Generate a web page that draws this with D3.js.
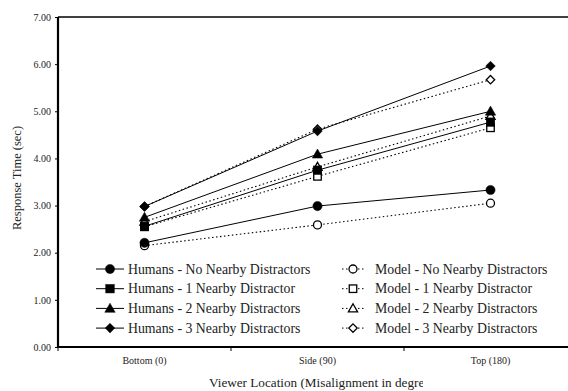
<!DOCTYPE html>
<html>
<head>
<meta charset="utf-8">
<script src="https://cdn.jsdelivr.net/npm/d3@7"></script>
<style>
  body { margin: 0; background: #fff; }
  svg text { font-family: 'Liberation Serif', 'Times New Roman', Times, 'DejaVu Serif', serif !important; fill: #222; }
</style>
</head>
<body>
<svg id="chart"></svg>
<script>
const categories = ["Bottom (0)", "Side (90)", "Top (180)"];
const yTicks = [0, 1, 2, 3, 4, 5, 6, 7];

const humansNo = [2.21, 2.99, 3.33];
const humans1 = [2.56, 3.75, 4.77];
const humans2 = [2.75, 4.09, 5.00];
const humans3 = [2.98, 4.58, 5.96];
const modelNo = [2.15, 2.59, 3.05];
const model1 = [2.55, 3.62, 4.65];
const model2 = [2.66, 3.82, 4.90];
const model3 = [2.98, 4.62, 5.67];

const series = [
    { name: "Humans - No Nearby Distractors", values: humansNo, shape: "circle", filled: true },
    { name: "Humans - 1 Nearby Distractor", values: humans1, shape: "square", filled: true },
    { name: "Humans - 2 Nearby Distractors", values: humans2, shape: "triangle", filled: true },
    { name: "Humans - 3 Nearby Distractors", values: humans3, shape: "diamond", filled: true },
    { name: "Model - No Nearby Distractors", values: modelNo, shape: "circle", filled: false },
    { name: "Model - 1 Nearby Distractor", values: model1, shape: "square", filled: false },
    { name: "Model - 2 Nearby Distractors", values: model2, shape: "triangle", filled: false },
    { name: "Model - 3 Nearby Distractors", values: model3, shape: "diamond", filled: false }
];

const width = 568, height = 391;
const margin = { left: 58, top: 17, right: -9, bottom: 44 };

const svg = d3.select("#chart").attr("width", width).attr("height", height)
    .attr("font-family", "Liberation Serif, serif");

const x = d3.scaleBand().domain(categories)
    .range([margin.left, width - margin.right]);
const y = d3.scaleLinear().domain([0, 7])
    .range([height - margin.bottom, margin.top]);

// top border of plot box
svg.append("line")
    .attr("x1", margin.left).attr("x2", width - margin.right)
    .attr("y1", y(7)).attr("y2", y(7))
    .attr("stroke", "#000").attr("stroke-width", 1.5);

// y axis
const yAxis = svg.append("g")
    .attr("transform", `translate(${margin.left},0)`)
    .call(d3.axisLeft(y).tickValues(yTicks).tickFormat(d3.format(".2f")).tickSize(3).tickPadding(4));
yAxis.attr("font-family", null);
yAxis.select(".domain").attr("stroke-width", 2.2).attr("d", `M0,${y(0)}V${y(7)}`);
yAxis.selectAll("text").style("font-size", "10px");

// x axis
const xAxis = svg.append("g")
    .attr("transform", `translate(0,${y(0)})`)
    .call(d3.axisBottom(x).tickSize(0).tickPadding(10));
xAxis.attr("font-family", null);
xAxis.select(".domain").attr("stroke-width", 2.2).attr("d", `M${margin.left},0H${width - margin.right}`);
xAxis.selectAll("text").style("font-size", "10px");
// ticks between categories
const bounds = categories.map(c => x(c));
svg.append("g").selectAll("line").data(bounds).join("line")
    .attr("x1", d => d).attr("x2", d => d)
    .attr("y1", y(0)).attr("y2", y(0) + 4)
    .attr("stroke", "#000").attr("stroke-width", 1);

// axis titles
svg.append("defs").append("clipPath").attr("id", "xclip")
    .append("rect").attr("x", 0).attr("y", 360).attr("width", 423).attr("height", 40);
svg.append("text")
    .attr("x", 209).attr("y", y(0) + 40)
    .attr("clip-path", "url(#xclip)")
    .style("font-size", "13.2px")
    .text("Viewer Location (Misalignment in degrees)");

svg.append("text")
    .attr("transform", `translate(21,178) rotate(-90)`)
    .attr("text-anchor", "middle")
    .style("font-size", "12.5px")
    .text("Response Time (sec)");

const cx = c => x(c) + x.bandwidth() / 2;

function drawMarker(g, shape, filled, px, py) {
    const fill = filled ? "#000" : "#fff";
    const sw = filled ? 0.5 : 1.3;
    let el;
    if (shape === "circle") {
        el = g.append("circle").attr("cx", px).attr("cy", py).attr("r", filled ? 4.6 : 4);
    } else if (shape === "square") {
        const s = filled ? 8.5 : 7.5;
        el = g.append("rect").attr("x", px - s / 2).attr("y", py - s / 2).attr("width", s).attr("height", s);
    } else if (shape === "triangle") {
        const s = filled ? 5.2 : 4.6;
        el = g.append("path").attr("d", `M${px},${py - s}L${px + s},${py + s * 0.75}L${px - s},${py + s * 0.75}Z`);
    } else {
        const s = filled ? 4.8 : 4.2;
        el = g.append("path").attr("d", `M${px},${py - s}L${px + s},${py}L${px},${py + s}L${px - s},${py}Z`);
    }
    el.attr("fill", fill).attr("stroke", "#000").attr("stroke-width", sw);
}

const line = d3.line().x((d, i) => cx(categories[i])).y(d => y(d));

const plot = svg.append("g");
// model underneath, humans on top
const order = [...series.slice(4), ...series.slice(0, 4)];
order.forEach(s => {
    plot.append("path")
        .attr("d", line(s.values))
        .attr("fill", "none")
        .attr("stroke", "#000")
        .attr("stroke-width", s.filled ? 1 : 1.1)
        .attr("stroke-dasharray", s.filled ? null : "1.5,2.5");
});
order.forEach(s => {
    s.values.forEach((v, i) => drawMarker(plot, s.shape, s.filled, cx(categories[i]), y(v)));
});

// legend
const legend = svg.append("g");
series.forEach((s, i) => {
    const col = s.filled ? 0 : 1;
    const row = i % 4;
    const lx = col === 0 ? 96 : 342;
    const ly = 269 + row * 19.7;
    const lw = col === 0 ? 28 : 22;
    legend.append("line")
        .attr("x1", lx).attr("x2", lx + lw)
        .attr("y1", ly).attr("y2", ly)
        .attr("stroke", "#000")
        .attr("stroke-width", 1)
        .attr("stroke-dasharray", s.filled ? null : "1.5,2.5");
    drawMarker(legend, s.shape, s.filled, lx + lw / 2, ly);
    legend.append("text")
        .attr("x", lx + lw + (col === 0 ? 4 : 11)).attr("y", ly + 4.5)
        .style("font-size", "13.8px")
        .text(s.name);
});
</script>
</body>
</html>
